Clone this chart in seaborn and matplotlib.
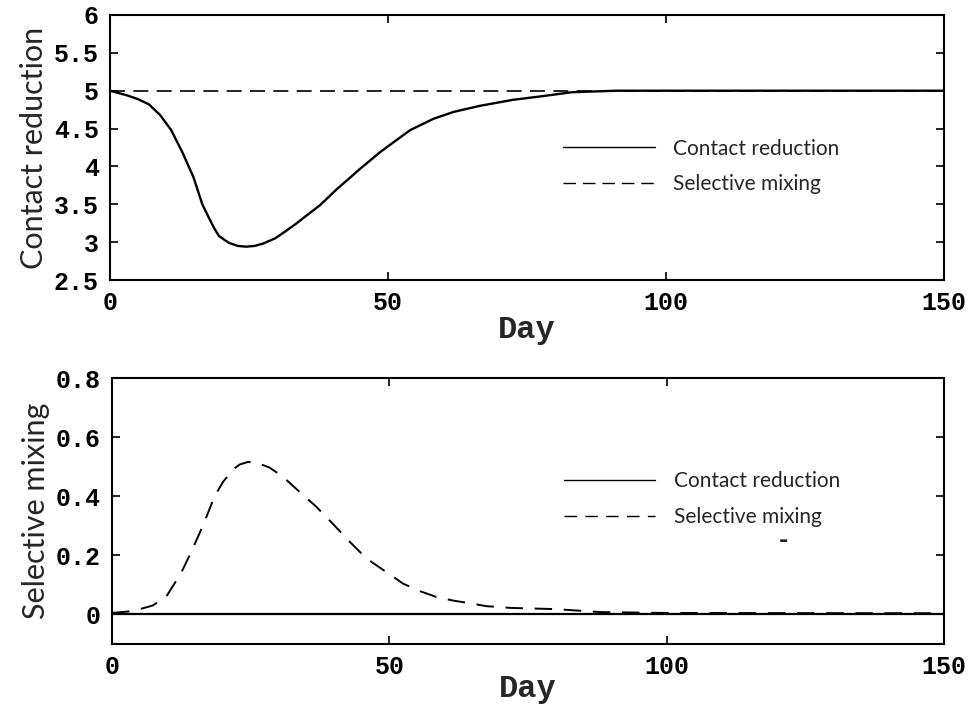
import matplotlib
matplotlib.use("Agg")
import matplotlib.pyplot as plt
import seaborn as sns
from matplotlib.ticker import FuncFormatter

# ---- data ----
days_top = [0, 1.5, 3, 5, 7, 9, 11, 13, 15, 16.6, 17.8, 18.7, 19.6, 21.4, 23,
            24.5, 26, 27.5, 29.7, 31.5, 33.4, 35.5, 37.8, 40.8, 43, 45, 48.6,
            51, 54, 58.2, 61.8, 66.5, 72.5, 78, 83, 91, 100, 150]
contact_top = [5.0, 4.97, 4.94, 4.89, 4.82, 4.68, 4.48, 4.19, 3.86, 3.50, 3.32,
               3.19, 3.08, 2.99, 2.95, 2.94, 2.95, 2.98, 3.05, 3.14, 3.24,
               3.36, 3.49, 3.70, 3.84, 3.97, 4.19, 4.32, 4.48, 4.63, 4.72,
               4.80, 4.88, 4.93, 4.98, 5.0, 5.0, 5.0]
mixing_top_days = [0, 150]
mixing_top = [5.0, 5.0]

days_bot = [0, 3, 5.2, 7.3, 9.7, 12.4, 14.5, 16.6, 18.5, 20, 21.8, 23, 24.5,
            26, 28.4, 30.8, 33.8, 36.8, 39.8, 42.9, 45.9, 49.5, 52.5, 55.5,
            58.5, 61.5, 65.1, 67.5, 72, 80, 88, 100, 150]
mixing_bot = [0.005, 0.01, 0.019, 0.03, 0.058, 0.138, 0.22, 0.31, 0.40, 0.448,
              0.49, 0.507, 0.516, 0.514, 0.497, 0.466, 0.415, 0.365, 0.307,
              0.245, 0.189, 0.143, 0.104, 0.079, 0.059, 0.047, 0.036, 0.028,
              0.022, 0.018, 0.008, 0.005, 0.004]
contact_bot_days = [0, 150]
contact_bot = [0.0, 0.0]

xticks = [0, 50, 100, 150]
yticks_top = [2.5, 3, 3.5, 4, 4.5, 5, 5.5, 6]
yticks_bot = [0, 0.2, 0.4, 0.6, 0.8]

label_contact = "Contact reduction"
label_mixing = "Selective mixing"

# ---- style ----
sns.set_theme(style="white")
plt.rcParams['font.family'] = ['DejaVu Sans']
plt.rcParams['lines.solid_joinstyle'] = 'round'
plt.rcParams['lines.dash_joinstyle'] = 'round'

fig = plt.figure(figsize=(9.68, 7.06), dpi=100)
ax1 = fig.add_axes([110/968, 1-280/706, (944-110)/968, (280-15)/706])
ax2 = fig.add_axes([112/968, 1-644/706, (944-112)/968, (644-378)/706])

mono = dict(family="Liberation Mono", weight="bold")
sans = "Lato"
dash = (9, 5)

def style_axes(ax, ylim, yticks, ylabel, xpad):
    ax.set_xlim(0, 150)
    ax.set_ylim(*ylim)
    ax.set_xticks(xticks)
    ax.set_yticks(yticks)
    ax.yaxis.set_major_formatter(FuncFormatter(lambda v, p: "%g" % v))
    for s in ax.spines.values():
        s.set_linewidth(1.5)
        s.set_color("black")
    ax.tick_params(direction="in", length=6, width=1.2, top=True, right=True,
                   left=True, bottom=True, colors="black", pad=8)
    for lab in ax.get_xticklabels() + ax.get_yticklabels():
        lab.set_fontfamily("Liberation Mono")
        lab.set_fontweight("bold")
        lab.set_fontsize(18)
    ax.set_xlabel("Day", fontsize=23, labelpad=xpad, **mono)
    ax.set_ylabel(ylabel, fontsize=22, family=sans, labelpad=4)

# top panel
sns.lineplot(x=days_top, y=contact_top, ax=ax1, color="black", linewidth=1.7,
             label=label_contact)
sns.lineplot(x=mixing_top_days, y=mixing_top, ax=ax1, color="black",
             linewidth=1.2, label=label_mixing)
ax1.lines[1].set_dashes(dash)

# bottom panel
sns.lineplot(x=contact_bot_days, y=contact_bot, ax=ax2, color="black",
             linewidth=1.6, label=label_contact)
sns.lineplot(x=days_bot, y=mixing_bot, ax=ax2, color="black", linewidth=1.4,
             label=label_mixing)
ax2.lines[1].set_dashes((9, 6))
ax2.text(121, 0.25, "-", fontsize=16, fontweight="bold", ha="center",
         va="center")

style_axes(ax1, (2.5, 6), yticks_top, "Contact reduction", 0)
style_axes(ax2, (-0.1, 0.8), yticks_bot, "Selective mixing", -4)

for ax, yc in ((ax1, 0.428), (ax2, 0.545)):
    leg = ax.legend(loc="center left", bbox_to_anchor=(0.543, yc),
                    frameon=False, handlelength=4.4, handletextpad=0.9,
                    labelspacing=0.75, borderpad=0, borderaxespad=0,
                    prop=dict(family=sans, size=15))
    for h in leg.get_lines():
        h.set_linewidth(1.0)

fig.savefig("out.png", dpi=100)
